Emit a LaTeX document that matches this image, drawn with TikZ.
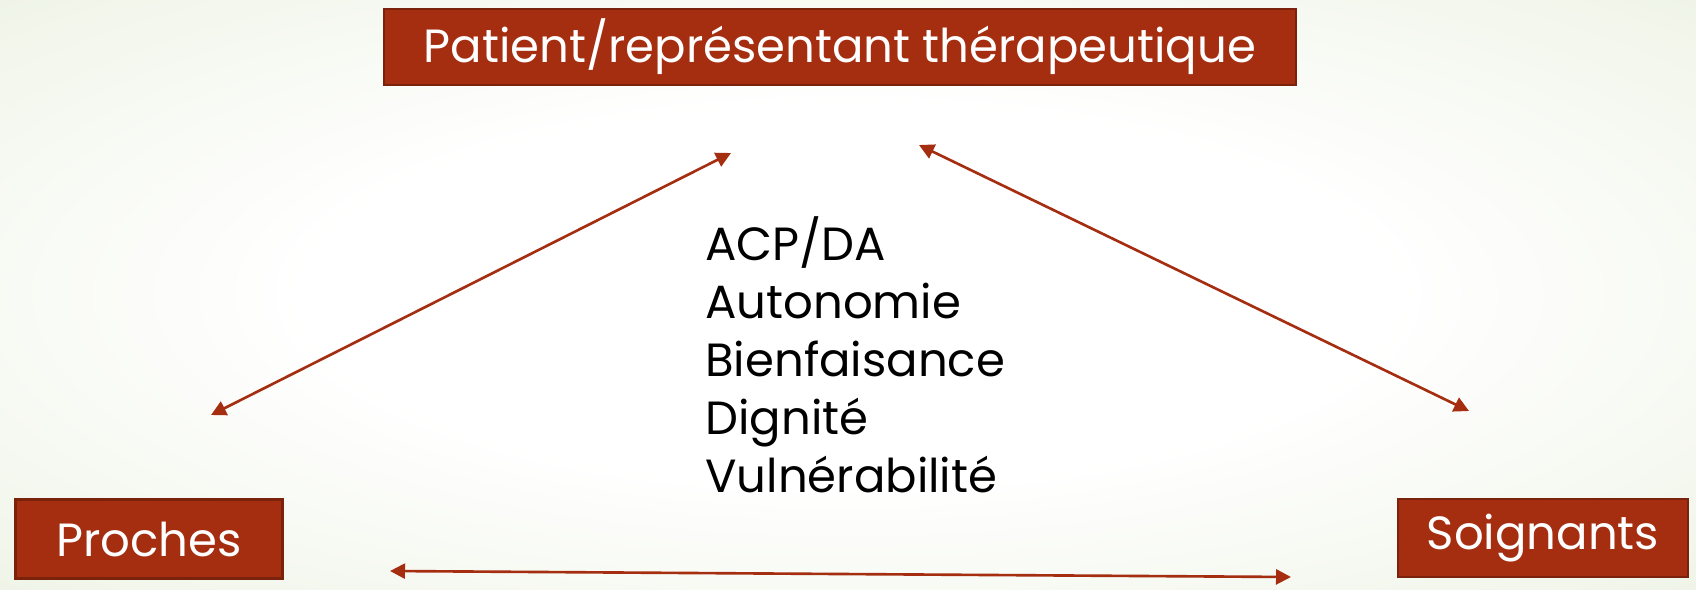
\documentclass[tikz,border=0pt]{standalone}
\usepackage{fontspec}
\setmainfont{Poppins}
\usetikzlibrary{arrows.meta}
\definecolor{rouille}{RGB}{165,46,17}
\definecolor{rouillefonce}{RGB}{122,34,12}
\definecolor{fond}{RGB}{228,236,214}
\pgfdeclareradialshading{fondclair}{\pgfpoint{0bp}{0bp}}{color(0bp)=(white); color(16bp)=(white); color(50bp)=(fond); color(80bp)=(fond)}

\begin{document}
\begin{tikzpicture}[x=0.02cm, y=-0.02cm,
  boite/.style={draw=rouillefonce, line width=1.2pt, fill=rouille, text=white, inner sep=0pt, font=\fontsize{26.5}{30}\selectfont},
  fleche/.style={rouille, line width=1.5pt, {Triangle[length=0.3cm,width=0.3cm]}-{Triangle[length=0.3cm,width=0.3cm]}}]
\useasboundingbox (0,0) rectangle (1696,589);
\shade[shading=fondclair] (0,0) rectangle (1696,589);
% les trois acteurs
\node[boite, minimum width=18.24cm, minimum height=1.52cm] (patient) at (840,47) {Patient/représentant thérapeutique};
\node[boite, minimum width=5.34cm, minimum height=1.58cm] (proches) at (149,539) {Proches};
\node[boite, minimum width=5.8cm, minimum height=1.56cm] (soignants) at (1543,538) {Soignants};
\node[anchor=north west, inner sep=0pt, align=left, font=\fontsize{26.5}{33}\selectfont] (valeurs) at (705,216) {ACP/DA\\Autonomie\\Bienfaisance\\Dignité\\Vulnérabilité};
% extremites des fleches
\coordinate (pg) at (731,153);
\coordinate (gp) at (211,415);
\coordinate (pd) at (919,145);
\coordinate (dp) at (1469,411);
\coordinate (bg) at (390,571);
\coordinate (bd) at (1291,577);
\draw[fleche] (gp) -- (pg);
\draw[fleche] (pd) -- (dp);
\draw[fleche] (bg) -- (bd);
\end{tikzpicture}
\end{document}
